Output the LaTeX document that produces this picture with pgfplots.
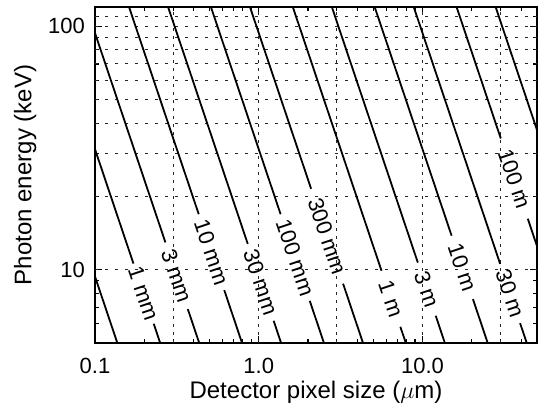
\documentclass[border=0pt]{standalone}
\usepackage{fontspec}
\setmainfont{Liberation Sans}
\usepackage{pgfplots}
\pgfplotsset{compat=1.18}

\tikzset{
  cline/.style={black, line width=0.9pt},
  lbl/.style={font=\fontsize{11}{11}\selectfont, inner sep=0pt},
}

% one contour line: upper end, gap start, gap end, lower end, label
\newcommand{\contour}[5]{%
  \addplot[cline] coordinates {#1 #2};
  \addplot[draw=none] coordinates {#2 #3} node[midway, sloped, lbl] {#5};
  \addplot[cline] coordinates {#3 #4};
}

\begin{document}
\begin{tikzpicture}
\begin{axis}[
    scale only axis,
    width=221pt, height=168pt,
    xmode=log, ymode=log,
    xmin=0.1, xmax=50,
    ymin=5, ymax=120,
    axis line style={line width=0.9pt},
    xtick={0.1,1,10}, xticklabels={0.1,1.0,10.0},
    ytick={10,100}, yticklabels={10,100},
    minor xtick={0.2,0.3,0.4,0.5,0.6,0.7,0.8,0.9,2,3,4,5,6,7,8,9,20,30,40,50},
    minor ytick={6,7,8,9,20,30,40,50,60,70,80,90,110},
    major tick length=3.5pt, minor tick length=2pt,
    every tick/.style={black, line width=0.6pt},
    xticklabel style={font=\fontsize{11}{12}\selectfont, yshift=-4pt},
    yticklabel style={font=\fontsize{11}{12}\selectfont, xshift=-1.5pt},
    /pgf/number format/assume math mode=true,
    xlabel={Detector pixel size ($\mu$m)},
    ylabel={Photon energy (keV)},
    every axis x label/.style={at={(axis description cs:0.5,-0.146)}, anchor=center,
      font=\fontsize{12}{13}\selectfont},
    every axis y label/.style={at={(axis description cs:-0.158,0.5)}, rotate=90, anchor=center,
      font=\fontsize{12}{13}\selectfont},
    extra x ticks={0.3,1,3,10,30},
    extra x tick labels={},
    extra x tick style={grid=major, major tick length=0pt,
      major grid style={black!85, line width=0.5pt, dash pattern=on 1.5pt off 2.5pt}},
    extra y ticks={10,20,30,40,50,60,70,80,90,100,110},
    extra y tick labels={},
    extra y tick style={grid=major, major tick length=0pt,
      major grid style={black!85, line width=0.5pt, dash pattern=on 1.75pt off 3.25pt}},
]
% 0.3 mm (label outside the frame)
\addplot[cline] coordinates {(0.0250,150) (0.1531,4)};
\contour{(0.04566,150)}{(0.1717,10.6)}{(0.2283,6.0)}{(0.2796,4)}{1 mm}
\contour{(0.0791,150)}{(0.2691,12.95)}{(0.3688,6.89)}{(0.4842,4)}{3 mm}
\contour{(0.1444,150)}{(0.4300,16.9)}{(0.6154,8.25)}{(0.8840,4)}{10 mm}
\contour{(0.2500,150)}{(0.8570,12.76)}{(1.2327,6.17)}{(1.531,4)}{30 mm}
\contour{(0.4566,150)}{(1.3600,16.9)}{(2.0488,7.45)}{(2.7962,4)}{100 mm}
\contour{(0.7907,150)}{(2.0883,21.5)}{(3.2733,8.76)}{(4.8417,4)}{300 mm}
\contour{(1.4439,150)}{(5.6196,9.9)}{(7.3226,5.83)}{(8.8412,4)}{1 m}
\contour{(2.5003,150)}{(9.361,10.7)}{(12.036,6.47)}{(15.311,4)}{3 m}
\contour{(4.565,150)}{(15.05,13.8)}{(20.32,7.57)}{(27.96,4)}{10 m}
\contour{(7.907,150)}{(29.80,10.56)}{(39.43,6.03)}{(48.42,4)}{30 m}
\contour{(14.44,150)}{(30.06,34.6)}{(43.93,16.2)}{(88.4,4)}{100 m}
% 300 m (label outside the frame)
\addplot[cline] coordinates {(25.00,150) (153.1,4)};
\end{axis}
\path ([xshift=-47.5pt,yshift=-30.5pt]current axis.south west)
  rectangle ([xshift=0.5pt,yshift=3.5pt]current axis.north east);
\end{tikzpicture}
\end{document}
